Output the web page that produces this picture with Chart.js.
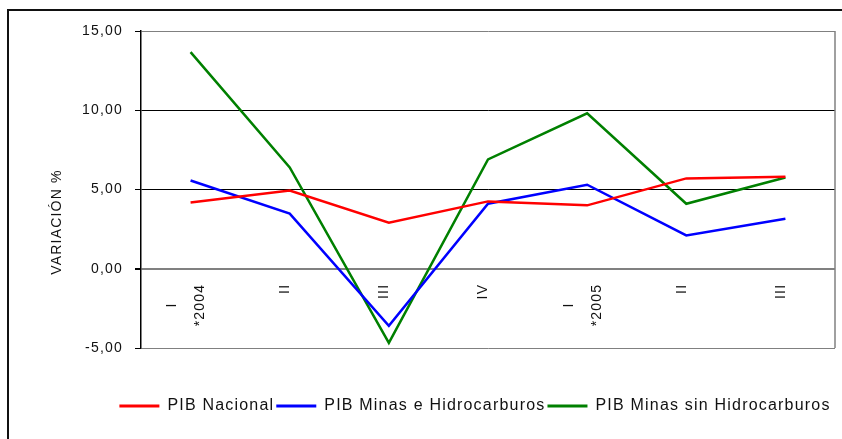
<!DOCTYPE html>
<html>
<head>
<meta charset="UTF-8">
<title>PIB variacion</title>
<style>
body{
	margin: 0;
	width: 842px;
	height: 439px;
	overflow: hidden;
	background-color: white;
	position: relative;
}
.marco{
	position: absolute;
	left: 7px;
	top: 9px;
	width: 1000px;
	height: 1000px;
	border-left: 2px solid #111;
	border-top: 2px solid #111;
}
#myChart{
	position: absolute;
	left: 0;
	top: 0;
}
</style>
</head>
<body>
<div class="marco"></div>
<canvas id="myChart" width="842" height="439"></canvas>

<script src="https://cdn.jsdelivr.net/npm/chart.js@4.4.0/dist/chart.umd.min.js"></script>
<script>
// trimestres y años (eje x)
let trimestres = ['I','II','III','IV','I','II','III'];
let anios = ['*2004','','','','*2005','',''];
// variación % por serie
let pibNacional = [4.18, 4.94, 2.90, 4.25, 4.00, 5.70, 5.80];
let pibMinas = [5.57, 3.48, -3.60, 4.10, 5.30, 2.10, 3.16];
let pibMinasSin = [13.67, 6.39, -4.68, 6.90, 9.81, 4.10, 5.76];
let yTicks = [-5, 0, 5, 10, 15];

let fuente = 'Liberation Sans, Arial, sans-serif';
let espacio = '1.2px';

// etiquetas del eje x: "I" + linea vacia + año
let etiquetas = trimestres.map(function(t, i){
	return anios[i] ? [t, '', anios[i]] : [t];
});

let gridColor = function(ctx){
	let v = ctx.tick ? ctx.tick.value : null;
	if(v == 10 || v == 5) return '#000';
	return '#808080';
};

let textoPlugin = {
	id: 'texto',
	beforeLayout: function(chart){ chart.ctx.letterSpacing = espacio; },
	afterLayout: function(chart){
		// leyenda centrada como en el original
		chart.legend.left = 115;
		chart.legend.right = 835;
	},
	beforeDraw: function(chart){ chart.ctx.letterSpacing = espacio; },
	beforeDatasetsDraw: function(chart){
		let ctx = chart.ctx;
		let x = chart.scales.x;
		let y = chart.scales.y;
		let area = chart.chartArea;
		ctx.save();
		ctx.letterSpacing = espacio;
		// borde derecho del area
		ctx.strokeStyle = '#808080';
		ctx.lineWidth = 1.5;
		ctx.beginPath();
		ctx.moveTo(area.right, area.top);
		ctx.lineTo(area.right, area.bottom);
		ctx.stroke();
		// etiquetas rotadas debajo de la linea 0
		ctx.font = '14px ' + fuente;
		ctx.fillStyle = '#111';
		ctx.textAlign = 'center';
		ctx.textBaseline = 'middle';
		let top = y.getPixelForValue(0) + 15;
		etiquetas.forEach(function(lineas, i){
			let cx = x.getPixelForValue(i) - 4.5;
			let largo = 0;
			lineas.forEach(function(l){ largo = Math.max(largo, ctx.measureText(l).width); });
			ctx.save();
			ctx.translate(cx, top + largo / 2);
			ctx.rotate(-Math.PI / 2);
			lineas.forEach(function(l, j){
				ctx.fillText(l, 0, (j - (lineas.length - 1) / 2) * 14);
			});
			ctx.restore();
		});
		// titulo eje y
		ctx.translate(57, 222);
		ctx.rotate(-Math.PI / 2);
		ctx.fillText('VARIACIÓN %', 0, 0);
		ctx.restore();
	}
};

let ctx = document.getElementById('myChart').getContext('2d');
let chart = new Chart(ctx, {
	type: 'line',
	data: {
		labels: trimestres,
		datasets: [{
			label: 'PIB Nacional',
			data: pibNacional,
			borderColor: '#ff0000',
			backgroundColor: '#ff0000',
			borderWidth: 2.5,
			pointRadius: 0,
			tension: 0
		},{
			label: 'PIB Minas e Hidrocarburos',
			data: pibMinas,
			borderColor: '#0000ff',
			backgroundColor: '#0000ff',
			borderWidth: 2.5,
			pointRadius: 0,
			tension: 0
		},{
			label: 'PIB Minas sin Hidrocarburos',
			data: pibMinasSin,
			borderColor: '#008000',
			backgroundColor: '#008000',
			borderWidth: 2.5,
			pointRadius: 0,
			tension: 0
		}]
	},
	options: {
		responsive: false,
		animation: false,
		layout: { padding: { top: 31, left: 70, right: 7, bottom: 15 } },
		plugins: {
			tooltip: { enabled: false },
			legend: {
				position: 'bottom',
				labels: {
					boxWidth: 40,
					boxHeight: 3,
					padding: 2,
					color: '#111',
					font: { family: fuente, size: 16 },
					generateLabels: function(chart){
						let items = Chart.defaults.plugins.legend.labels.generateLabels(chart);
						items.forEach(function(it){ it.lineWidth = 0; });
						return items;
					}
				}
			}
		},
		scales: {
			x: {
				offset: true,
				grid: { display: false },
				border: { display: false },
				ticks: { display: false },
				afterFit: function(scale){ scale.height = 48; }
			},
			y: {
				min: -5,
				max: 15,
				afterBuildTicks: function(scale){
					scale.ticks = yTicks.map(function(v){ return { value: v }; });
				},
				afterFit: function(scale){ scale.width = 71; },
				border: { color: '#000', width: 1.5 },
				grid: {
					color: gridColor,
					lineWidth: function(c){ return (c.tick && c.tick.value == 0) ? 2 : 1; },
					tickColor: '#000',
					tickLength: 6
				},
				ticks: {
					padding: 12,
					color: '#111',
					font: { family: fuente, size: 14 },
					callback: function(v){ return v.toFixed(2).replace('.', ','); }
				}
			}
		}
	},
	plugins: [textoPlugin]
});
</script>
</body>
</html>
